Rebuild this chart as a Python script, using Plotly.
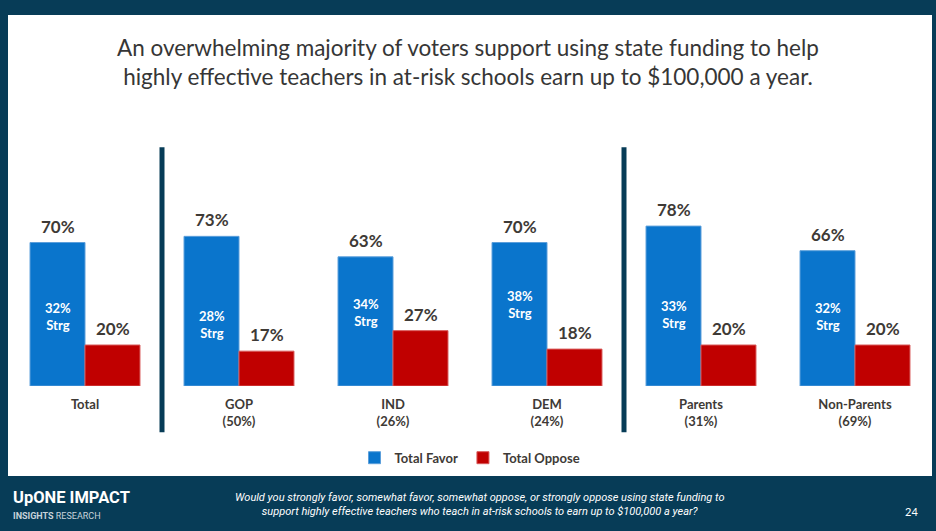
import plotly.graph_objects as go

# survey groups shown along the x axis
groups = ["Total", "GOP<br>(50%)", "IND<br>(26%)", "DEM<br>(24%)", "Parents<br>(31%)", "Non-Parents<br>(69%)"]
favor = [70, 73, 63, 70, 78, 66]
oppose = [20, 17, 27, 18, 20, 20]
strong_favor = [32, 28, 34, 38, 33, 32]

NAVY = "#073C57"
BLUE = "#0A75CC"
RED = "#C00000"
LABEL = "#3E3A36"
FONT = "Lato"

title_lines = [
    "An overwhelming majority of voters support using state funding to help",
    "highly effective teachers in at-risk schools earn up to $100,000 a year.",
]
question = (
    "Would you strongly favor, somewhat favor, somewhat oppose, or strongly oppose using state funding to<br>"
    "support highly effective teachers who teach in at-risk schools to earn up to $100,000 a year?"
)

fig = go.Figure()
fig.add_bar(
    x=groups, y=favor, name="<b>Total Favor</b>",
    marker=dict(color=BLUE, line=dict(color="#5C9FDB", width=1)),
    hoverinfo="skip",
)
fig.add_bar(
    x=groups, y=oppose, name="<b>Total Oppose</b>",
    marker=dict(color=RED, line=dict(color="#D85A5A", width=1)),
    hoverinfo="skip",
)

annotations = []
for g, f, o, s in zip(groups, favor, oppose, strong_favor):
    annotations.append(dict(
        x=g, y=f, xshift=-27.5, yshift=4, yanchor="bottom", showarrow=False,
        text=f"<b>{f}%</b>", font=dict(size=17, color=LABEL, family=FONT),
    ))
    annotations.append(dict(
        x=g, y=o, xshift=27.5, yshift=4, yanchor="bottom", showarrow=False,
        text=f"<b>{o}%</b>", font=dict(size=17, color=LABEL, family=FONT),
    ))
    annotations.append(dict(
        x=g, y=s, xshift=-27.5, yshift=4, yanchor="middle", showarrow=False,
        text=f"<b>{s}%<br>Strg</b>", font=dict(size=13, color="white", family=FONT),
    ))

# title
annotations.append(dict(
    xref="paper", yref="paper", x=0.498, y=1.58, yanchor="middle", showarrow=False,
    text="<br>".join(title_lines), align="center",
    font=dict(size=22.5, color="#363636", family=FONT),
))
# footer
annotations += [
    dict(xref="paper", yref="paper", x=0.511, y=-0.58, yanchor="middle", showarrow=False,
         text=f"<i>{question}</i>", align="center",
         font=dict(size=11, color="white", family="Roboto")),
    dict(xref="paper", yref="paper", x=0.003, xanchor="left", y=-0.545, yanchor="middle",
         showarrow=False, text="<b>UpONE IMPACT</b>",
         font=dict(size=16.5, color="white", family="Roboto")),
    dict(xref="paper", yref="paper", x=0.003, xanchor="left", y=-0.634, yanchor="middle",
         showarrow=False, text="<b>INSIGHTS</b> RESEARCH",
         font=dict(size=9, color="#C8D3DA", family="Roboto")),
    dict(xref="paper", yref="paper", x=0.987, y=-0.61, yanchor="middle", showarrow=False,
         text="24", font=dict(size=11, color="white", family=FONT)),
]

shapes = [
    # white slide panel
    dict(type="rect", xref="paper", yref="paper", x0=0, x1=1, y0=-0.439, y1=1.81,
         fillcolor="white", line=dict(width=0), layer="below"),
    # group separators
    dict(type="line", xref="x", yref="paper", x0=0.5, x1=0.5, y0=-0.225, y1=1.165,
         line=dict(color=NAVY, width=5)),
    dict(type="line", xref="x", yref="paper", x0=3.5, x1=3.5, y0=-0.225, y1=1.165,
         line=dict(color=NAVY, width=5)),
]

fig.update_layout(
    width=936, height=531,
    margin=dict(l=8, r=4, t=181, b=145),
    paper_bgcolor=NAVY, plot_bgcolor="white",
    barmode="group", bargap=0.286, bargroupgap=0,
    showlegend=True,
    legend=dict(orientation="h", x=0.5, xanchor="center", y=-0.35, yanchor="middle",
                font=dict(size=13, color=LABEL, family=FONT), itemwidth=30,
                tracegroupgap=0, bgcolor="rgba(0,0,0,0)"),
    annotations=annotations, shapes=shapes,
    font=dict(family=FONT),
)
fig.update_xaxes(
    range=[-0.5, 5.5], showgrid=False, zeroline=False, showline=False,
    tickfont=dict(size=13, color=LABEL, family=FONT), ticklabelstandoff=9,
    ticktext=[f"<b>{g}</b>" for g in groups], tickvals=groups,
)
fig.update_yaxes(range=[0, 100], visible=False)

fig.write_html("out.html", config={"displayModeBar": False},
               post_script="document.body.style.margin='0';")
